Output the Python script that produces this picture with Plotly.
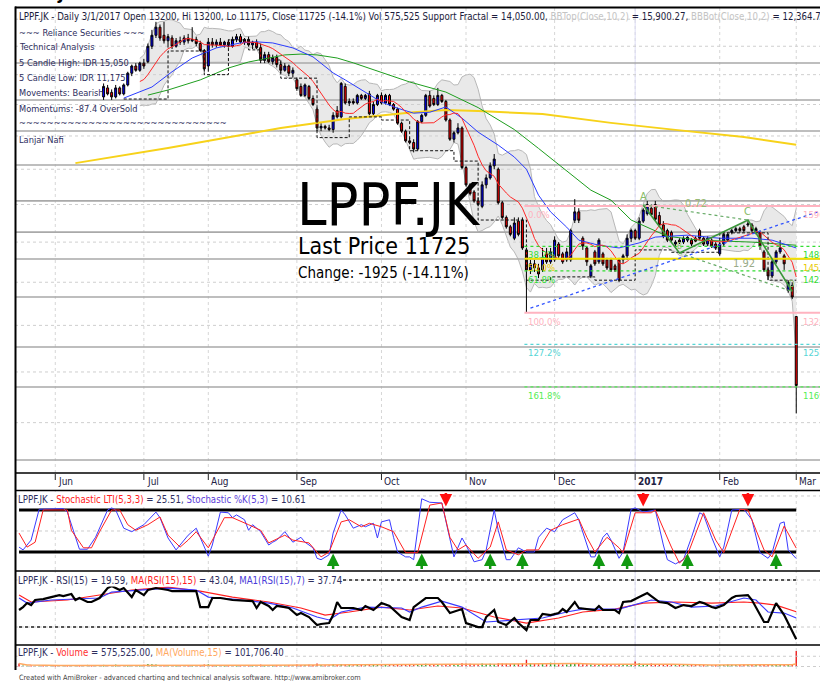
import numpy as np
import pandas as pd
import plotly.graph_objects as go

W, H = 820, 681
FONT = "DejaVu Sans Condensed, Liberation Sans, Arial, sans-serif"
TXT = "#2e2e5e"
TS = 9.6  # small text size

def px(x):
    return x / W

def py(y):
    return 1 - y / H

# ---------------- data ----------------
month_labels = ["Jun", "Jul", "Aug", "Sep", "Oct", "Nov", "Dec", "2017", "Feb", "Mar"]
month_bar = [9, 31, 47, 69, 90, 111, 133, 153, 174, 193]
n_bars = 194
first_candle = 21

opens = [19250,19550,19400,19250,19550,19350,19650,20050,20300,20150,20400,20450,21000,21400,21700,21400,21200,21300,21000,21200,
         21150,21300,21200,21250,21100,20850,20300,21150,21050,21150,21050,21150,21000,21250,21350,21150,21250,21050,21150,20950,
         20500,20700,20450,20600,20350,20150,20300,20050,19825,19600,19300,19600,19200,18850,18250,18300,18250,18200,18800,18600,
         19600,19050,19100,19050,19300,19200,19350,18700,19000,19300,19050,19300,19000,18850,18400,18150,17850,17800,17600,18450,
         18650,19300,19200,19000,19300,19100,18500,17900,18100,18250,17050,16550,16350,16100,15950,16550,16750,17100,17000,16050,
         15650,15400,15100,15550,15575,14800,14300,14450,14350,14300,14700,14500,14550,14950,14700,14550,14550,15575,15800,15100,
         14850,14150,14750,14500,14700,14550,14550,14400,14550,14550,14650,15100,15300,15100,15550,15750,15900,16000,15700,15450,
         15300,15250,14950,15050,15000,15050,15050,15100,15300,15100,14950,15050,14950,14700,14950,15050,15250,15300,15350,15400,
         15450,15450,15250,15250,14750,14300,14150,14500,14750,14650,13800,13925,13200]
highs = [19700,19650,19500,19650,19600,19700,20100,20350,20400,20450,20550,21100,21600,21900,21800,21900,21450,21400,21300,21350,
         21400,21450,21700,21350,21200,20900,21300,21300,21250,21300,21200,21250,21350,21450,21450,21300,21350,21200,21250,21100,
         20800,20800,20700,20700,20500,20400,20350,20250,19900,19700,19700,19650,19300,18900,18400,18350,18350,18750,18950,19750,
         19700,19200,19200,19350,19350,19350,19450,19100,19350,19400,19350,19350,19050,18900,18450,18200,17950,17900,18500,18700,
         19350,19450,19300,19550,19350,19150,18550,18150,18400,18300,17100,16600,16400,16200,16650,16850,17200,17450,17050,16100,
         15700,15450,15650,15650,15650,14850,14550,14550,14450,14850,14850,14850,15150,15000,14750,14850,15350,16150,15900,15150,
         14900,14450,14800,15100,14750,14600,14600,14450,14600,14700,15200,15350,15350,15650,15900,16100,16000,16100,15800,15550,
         15350,15300,15050,15100,15150,15150,15100,15150,15350,15150,15150,15100,15000,15000,15250,15250,15350,15400,15400,15450,
         15550,15500,15400,15300,14800,14350,14550,14800,15050,14700,14050,14000,13200]
lows = [19150,19300,19150,19200,19300,19300,19600,19950,20100,20100,20200,20400,20900,21300,21200,21100,20950,20900,20950,21050,
        21050,21100,21150,21000,20800,20100,20100,20950,20950,21000,20950,20950,20950,21150,21100,21050,21000,20900,20900,20400,
        20400,20400,20350,20250,20050,20100,19950,19900,19450,19250,19250,19150,18950,18150,18150,18200,18150,18100,18550,18550,
        19000,18950,19000,19000,19150,19150,18650,18650,18950,19000,19000,18950,18800,18350,18100,17800,17750,17500,17550,18400,
        18600,18900,18950,18950,19050,18450,17850,17800,18050,17000,16500,16250,16050,15950,15900,16450,16700,17000,16000,15600,
        15350,15150,15050,15150,14800,13300,14200,14250,14100,14250,14450,14450,14500,14600,14450,14500,14500,15500,15500,14800,
        14400,14100,14400,14450,14400,14300,14250,14250,14000,14450,14550,15000,15050,15050,15500,15700,15700,15550,15400,15100,
        15000,15000,14900,14950,14950,15000,14900,15000,15050,14900,14900,14850,14800,14650,14900,15000,15200,15250,15250,15250,
        15400,15250,15200,14800,14250,14050,14100,14450,14700,14300,13750,13600,11175]
closes = [19600,19350,19250,19550,19350,19650,20050,20300,20150,20400,20300,21000,21400,21700,21300,21200,21350,21000,21200,21150,
          21300,21200,21250,21100,20850,20200,21150,21050,21150,21050,21150,21000,21250,21350,21150,21250,21050,21150,20950,20500,
          20700,20450,20600,20350,20150,20300,20050,20150,19525,19300,19650,19200,19000,18250,18300,18250,18200,18650,18600,19700,
          19050,19100,19050,19300,19200,19300,18700,19000,19300,19050,19300,19000,18850,18400,18150,17850,17800,17600,18450,18650,
          19300,18950,19000,19300,19100,18500,17900,18100,18250,17050,16550,16300,16100,16000,16550,16750,17100,17300,16050,15650,
          15400,15200,15500,15200,14850,14300,14450,14350,14200,14600,14500,14750,15050,14650,14500,14750,15300,15800,15575,14900,
          14500,14400,14450,15050,14450,14350,14300,14300,14050,14650,15100,15300,15100,15550,15850,16000,15725,15600,15450,15150,
          15050,15050,15000,15000,15100,15125,14950,15025,15100,14950,15100,14900,14850,14950,15200,15200,15300,15350,15300,15300,
          15475,15300,15350,14900,14300,14150,14500,14750,14850,14450,14000,13650,11725]

volume_k = [110,40,30,35,25,30,45,30,25,40,35,30,50,45,40,35,30,60,45,40,55,
            60,45,50,70,40,55,60,45,40,50,65,90,80,70,60,55,45,50,40,45,40,50,60,45,50,70,
            80,50,45,40,55,45,50,40,45,50,40,45,55,70,50,45,55,60,50,45,55,50,
            70,60,55,65,60,110,55,50,45,80,60,90,70,55,50,60,55,50,75,55,60,50,
            55,60,55,70,65,70,55,75,95,80,100,70,60,55,50,75,90,85,70,120,110,
            100,90,80,110,95,100,85,120,110,100,95,90,100,110,250,120,95,85,90,80,140,
            85,80,75,70,110,120,90,85,80,70,65,75,60,55,60,50,90,60,70,65,
            190,120,95,80,110,90,70,65,60,55,50,55,60,50,55,60,50,55,45,50,55,
            60,55,70,65,60,60,70,65,60,55,55,90,75,70,65,60,70,75,80,
            575.525]

blue_ma_k = [26,33,38,43,49,55,59,63,68,73,78,81,90,94,98,102,106,110,114,119,123,126,129,132,136,139,144,149,154,158,166,174,182,187,193]
blue_ma_p = [19210,19580,20100,20580,20940,21120,21160,21120,20940,20620,20060,19820,19080,18880,18720,18750,18920,18560,18120,17720,
             17360,17000,16260,15800,15390,15050,14920,14850,14980,15130,15180,15100,15100,15050,14850]
green_ma_k = [32,37,45,52,57,62,66,70,74,79,83,97,106,114,123,129,142,147,152,161,169,182,193]
green_ma_p = [19310,19480,19820,20230,20440,20580,20690,20720,20690,20580,20410,19750,19410,18900,18200,17620,16400,16120,15580,15150,15050,15000,14920]
yellow_ma_k = [14,37,58,65,81,98,106,114,130,147,163,180,193]
yellow_ma_p = [17180,17630,18090,18250,18530,18750,18820,18790,18690,18410,18190,17970,17730]

fractal_k = [26,37,46,52,57,60,65,74,82,90,97,108,114,126,132,143,153,162,174,186,193]
fractal_p = [19180,20830,20000,21230,20870,20510,19880,17950,18600,18500,17550,17240,15580,14050,14130,14050,14800,14740,15240,14050,14050]

sr_levels = [20405, 19150, 18155, 17125, 16100, 15260, 14570, 13650, 12525, 11695, 10315]
grid_levels = list(range(11000, 23000, 1000))

fib_start = 126
fib_names = ["0.0%", "38.2%", "50.0%", "61.8%", "100.0%", "127.2%", "161.8%"]
fib_levels = [15960, 14888, 14575, 14275, 13285, 12585, 11695]
fib_colors = ["#ffb3c0", "#33dd33", "#f2e000", "#33dd33", "#ffb3c0", "#55d5d5", "#55ee55"]
fib_dash = ["solid", "dot", "solid", "dot", "solid", "dot", "dot"]
fib_width = [2, 1.2, 2, 1.2, 2, 1.2, 1.2]

trend_k = [127, 199]
trend_p = [13390, 15825]
abcd_names = ["A", "B", "C", "D"]
abcd_k = [155, 164, 181, 192]
abcd_p = [15990, 14720, 15580, 13780]

stoch_k_x = [0,1,3,5,11,12,15,17,19,22,23,24,26,28,31,34,35,37,39,40,42,44,45,47,48,50,52,53,54,56,57,58,60,62,63,64,66,67,68,70,
             71,73,74,75,76,77,78,80,81,83,85,86,88,89,90,92,93,94,96,97,98,100,102,105,108,110,111,113,115,116,118,119,121,122,124,126,128,129,131,133,
             135,136,138,139,140,142,143,145,146,147,149,150,152,153,155,158,160,161,163,165,167,169,170,172,174,175,177,180,182,184,186,187,189,190,191,193]
stoch_k_v = [27,23,37,81,82,77,24,24,41,80,83,80,54,49,59,77,69,40,23,30,44,54,41,14,30,77,76,69,73,66,51,59,49,30,34,37,49,41,34,41,
             34,26,11,9,13,16,47,80,73,54,59,56,61,40,63,66,41,20,13,13,9,96,91,90,13,40,30,6,9,23,80,51,9,9,26,20,20,41,54,49,
             66,69,76,66,49,13,13,41,47,37,11,20,81,83,77,80,30,9,3,9,41,76,73,41,13,27,80,81,66,19,11,19,61,63,23,10.61]
stoch_d_x = [0,2,4,6,12,13,16,18,20,23,25,27,29,32,35,37,40,42,44,47,51,53,57,60,62,66,68,72,75,77,80,82,85,87,90,93,96,99,102,105,
             107,109,111,114,117,119,121,124,126,129,132,135,139,141,143,146,149,150,153,157,158,162,164,166,170,173,175,179,181,185,187,190,193]
stoch_d_v = [47,27,34,80,80,51,26,26,49,80,80,59,51,59,70,44,27,37,49,26,69,69,59,51,33,44,37,33,13,20,63,66,56,61,56,49,19,19,87,90,
             41,23,30,11,27,63,23,16,23,23,51,59,67,41,20,41,26,19,76,76,80,27,4,16,76,37,19,81,80,23,13,57,25.51]
buy_bars = [78, 100, 117, 125, 144, 151, 166, 188]
sell_bars = [106, 155, 181]

rsi_x = [0,1,2,3,4,6,8,10,11,13,14,15,17,18,20,22,23,25,26,28,29,31,32,34,37,38,44,45,47,48,50,53,58,59,60,62,63,64,66,67,
         69,70,72,74,75,77,78,79,80,83,85,86,88,90,92,93,95,97,98,100,101,104,105,107,110,111,114,115,116,118,119,121,123,124,126,127,129,130,132,134,
         135,136,138,139,141,143,144,145,148,149,150,152,154,156,157,159,161,163,165,167,169,170,172,173,175,177,178,181,182,185,186,188,190,191,193]
rsi_v = [44.5,47,50.4,48.7,53,53.8,55.5,57.2,56.4,58.1,53,54.7,51.3,51.3,54.7,63.2,65,61.5,63.2,55.5,61.5,57.2,61.5,63.2,61.5,60.6,60.6,47,47,54.7,
         54.7,53,52.1,46.2,51.3,47.9,44.5,47.9,47,46.2,40.2,41.9,38.5,31.7,32.6,33.4,40.2,51.3,46.2,46.2,44.5,47.9,44.5,50.4,47.9,44.5,38.5,36,47,52.1,
         54.7,54.7,51.3,41.9,45.3,33.4,30,30,38.5,44.5,34.3,31.7,37.7,33.4,27.4,36,36,41.1,40.2,41.9,45.3,42.8,51.3,46.2,45.3,44.5,47.9,44.5,44.5,41.9,
         51.3,52.1,55.5,58.9,56.4,51.3,50.4,46.2,48.7,47.9,51.3,50.4,47,46.2,48.7,54.7,56.4,57.2,53,34.3,34.3,50.4,40.2,33.4,19.59]
rsi_ma_x = [0,3,12,20,28,37,45,53,62,70,76,82,90,97,104,110,118,126,134,140,148,155,163,172,180,184,188,193]
rsi_ma_v = [57.2,51.3,53,57.2,61.5,64,60.6,55.5,51.3,46.2,40.2,42.8,47,44.5,47.9,46.2,38.5,33.4,37.7,42.8,45.3,50.4,51.3,50.4,51.3,50.4,48.7,43.04]
rsi_ma1_x = [0,2,8,16,20,23,30,37,44,47,53,62,68,74,77,80,86,95,97,100,105,110,116,122,130,136,140,149,157,162,167,173,180,183,186,190,193]
rsi_ma1_v = [54.7,50.4,53,53.8,54.7,59.8,61.5,63.2,61.5,55.5,53.8,50.4,46.2,38.5,36,42.8,47,46.2,42.8,47,52.1,47,34.3,36,37.7,42.8,45.3,45.3,53,51.3,
             47,47.9,54.7,53,42.8,41.9,37.74]

# ---------------- derived series ----------------
cx = list(range(first_candle, first_candle + len(closes)))
cs = pd.Series(closes, index=cx, dtype=float)
ma10 = cs.rolling(10).mean()
sd10 = cs.rolling(10).std(ddof=0)
bb_top = (ma10 + 2 * sd10).dropna()
bb_bot = (ma10 - 2 * sd10).dropna()
vol = pd.Series([v * 1000 for v in volume_k], dtype=float)
vol_ma = vol.rolling(15, min_periods=1).mean()
vol_colors = []
for k in range(n_bars):
    if k >= first_candle:
        i = k - first_candle
        vol_colors.append("#22a022" if closes[i] >= opens[i] else "#ee2020")
    else:
        vol_colors.append("#ee2020" if k % 3 == 0 else "#22a022")

XL, XR = -1.0, 198.9

fig = go.Figure()

def line(x, y, color, width=1, dash="solid", axis="y", shape="linear"):
    fig.add_trace(go.Scatter(x=x, y=y, mode="lines", yaxis=axis, xaxis="x",
                             line=dict(color=color, width=width, dash=dash, shape=shape),
                             hoverinfo="skip", showlegend=False))

# ---- main panel: background layer (y) ----
fig.add_trace(go.Scatter(x=list(bb_bot.index), y=list(bb_bot.values), mode="lines", yaxis="y",
                         line=dict(color="#b8b8b8", width=1), hoverinfo="skip", showlegend=False))
fig.add_trace(go.Scatter(x=list(bb_top.index), y=list(bb_top.values), mode="lines", fill="tonexty", yaxis="y",
                         fillcolor="#e9e9e9", line=dict(color="#b8b8b8", width=1), hoverinfo="skip", showlegend=False))
for g in grid_levels:
    line([XL, XR], [g, g], "#cfcfcf", 1, "dot")
for s in sr_levels:
    line([XL, XR], [s, s], "#a9a9a9", 1.6)

# ---- candles on overlay (y5) ----
fig.add_trace(go.Candlestick(x=cx, open=opens, high=highs, low=lows, close=closes, xaxis="x", yaxis="y5",
                             increasing=dict(line=dict(color="#000000", width=1), fillcolor="#0000ff"),
                             decreasing=dict(line=dict(color="#000000", width=1), fillcolor="#ff0000"),
                             whiskerwidth=0, hoverinfo="skip", showlegend=False))

# ---- indicator lines on overlay (y6) ----
line(yellow_ma_k, yellow_ma_p, "#f7d21a", 2, axis="y6")
line(green_ma_k, green_ma_p, "#1e9e1e", 1, axis="y6")
line(blue_ma_k, blue_ma_p, "#2a3cff", 1, axis="y6")
line(list(ma10.dropna().index), list(ma10.dropna().values), "#ff2a2a", 1, axis="y6")
line(fractal_k, fractal_p, "#111111", 1, "3px,2px", axis="y6", shape="hv")
for lv, c, d, w in zip(fib_levels, fib_colors, fib_dash, fib_width):
    line([fib_start - 0.5, XR], [lv, lv], c, w, d, axis="y6")
line(trend_k, trend_p, "#3355ff", 1.3, "dot", axis="y6")
line(abcd_k, abcd_p, "#3a963a", 1.6, axis="y6")
line([abcd_k[0], abcd_k[2]], [abcd_p[0], abcd_p[2]], "#66aa66", 1.2, "dot", axis="y6")
line([abcd_k[1], abcd_k[3]], [abcd_p[1], abcd_p[3]], "#66aa66", 1.2, "dot", axis="y6")

# ---- stochastic ----
for lv in [50, 100]:
    line([XL, XR], [lv, lv], "#cccccc", 1, "dot", axis="y2")
line([0, n_bars - 1], [80, 80], "#000000", 3, axis="y2")
line([0, n_bars - 1], [20, 20], "#000000", 3, axis="y2")
line(stoch_k_x, stoch_k_v, "#3a3aff", 1, axis="y2")
line(stoch_d_x, stoch_d_v, "#ff2020", 1, axis="y2")

# ---- RSI ----
for lv in [70, 30]:
    line([XL, XR], [lv, lv], "#cccccc", 1, "dot", axis="y3")
    line([0, n_bars - 1], [lv, lv], "#555555", 2, "dot", axis="y3")
line(rsi_ma_x, rsi_ma_v, "#ff2020", 1.2, axis="y3")
line(rsi_ma1_x, rsi_ma1_v, "#3a3aff", 1.2, axis="y3")
line(rsi_x, rsi_v, "#000000", 2.2, axis="y3")

# ---- volume ----
for lv in [0, 380000]:
    line([XL, XR], [lv, lv], "#cccccc", 1, "dot", axis="y4")
fig.add_trace(go.Bar(x=list(range(n_bars)), y=list(vol.values), marker=dict(color=vol_colors, line=dict(width=0)),
                     width=0.35, xaxis="x", yaxis="y4", hoverinfo="skip", showlegend=False))
line(list(range(n_bars)), list(vol_ma.values), "#ffa860", 1.5, axis="y4")

shapes = []
for k in month_bar:
    for yr in ["y domain", "y2 domain", "y3 domain", "y4 domain"]:
        shapes.append(dict(type="line", xref="x", yref=yr, x0=k, x1=k, y0=0, y1=1,
                           line=dict(color="#d6d6d6", width=1, dash="dot"), layer="below"))
shapes.append(dict(type="line", xref="x", yref="paper", x0=153, x1=153, y0=py(669), y1=py(8),
                   line=dict(color="#dcdcf4", width=1), layer="below"))

def hline(y, w=1.5):
    shapes.append(dict(type="line", xref="paper", yref="paper", x0=px(15), x1=1, y0=py(y), y1=py(y),
                       line=dict(color="#000000", width=w)))
hline(7.5, 2)
hline(473, 1.5)
hline(490.5, 1.5)
hline(571, 1.5)
hline(645, 1.5)
shapes.append(dict(type="line", xref="paper", yref="paper", x0=px(15.5), x1=px(15.5), y0=py(670), y1=py(6.5),
                   line=dict(color="#000000", width=2)))
for k in month_bar:
    shapes.append(dict(type="line", xref="x", yref="paper", x0=k, x1=k, y0=py(474), y1=py(480),
                       line=dict(color="#222222", width=1)))

ann = []
def text(x, y, s, size=TS, color=TXT, anchor="left", yanchor="middle", bg=None, family=FONT, **kw):
    d = dict(x=px(x), y=py(y), xref="paper", yref="paper", text=s, showarrow=False, xanchor=anchor,
             yanchor=yanchor, font=dict(family=family, size=size, color=color))
    if bg:
        d["bgcolor"] = bg
        d["borderpad"] = 0
    d.update(kw)
    ann.append(d)

text(13, 6, "<b>LPPF.JK</b>", 16, "#000000", yanchor="bottom")
gray = "#c4c4c4"
header = ("LPPF.JK - Daily 3/1/2017 Open 13200, Hi 13200, Lo 11175, Close 11725 (-14.1%) Vol 575,525 Support Fractal = 14,050.00, "
          f"<span style='color:{gray}'>BBTop(Close,10,2)</span> = 15,900.27, "
          f"<span style='color:{gray}'>BBBot(Close,10,2)</span> = 12,364.73")
text(17, 17, header, TS, "#1c1c3c")
left_lines = ["~~~ Reliance Securities ~~~", "Technical Analysis", "5 Candle High: IDR 15,050", "5 Candle Low: IDR 11,175",
              "Movements: Bearish", "Momentums: -87.4 OverSold", "~~~~~~~~~~~~~~~~~~~~~~~~~~~~~~", "Lanjar Nafi"]
left_y = [32, 47, 62, 77, 93, 108, 123, 139]
for s, yy in zip(left_lines, left_y):
    text(17, yy, s, 9.2, TXT)

text(295, 204, "LPPF.JK", 59, "#000000")
text(296, 246, "Last Price 11725", 23, "#000000")
text(296, 273, "Change: -1925 (-14.11%)", 15, "#000000")

for nm, lv, c in zip(fib_names, fib_levels, fib_colors):
    lab_c = c if c != "#f2e000" else "#e8c800"
    ann.append(dict(x=fib_start, y=np.log10(lv), xref="x", yref="y", text=nm, showarrow=False, xanchor="left",
                    yanchor="top", yshift=-1, font=dict(family=FONT, size=9.5, color=lab_c)))
    ann.append(dict(x=194.2, y=np.log10(lv), xref="x", yref="y", text=str(lv), showarrow=False, xanchor="left",
                    yanchor="top", yshift=-1, font=dict(family=FONT, size=9.5, color=lab_c)))
for nm, k, p in zip(abcd_names, abcd_k, abcd_p):
    sz = 11 if nm in ("A", "C") else 8
    ann.append(dict(x=k, y=np.log10(p), xref="x", yref="y", text=nm, showarrow=False, yanchor="bottom",
                    font=dict(family=FONT, size=sz, color="#88bb66")))
ann.append(dict(x=(abcd_k[0] + abcd_k[2]) / 2, y=np.log10((abcd_p[0] + abcd_p[2]) / 2), xref="x", yref="y", text="0.72",
                showarrow=False, yanchor="bottom", font=dict(family=FONT, size=11, color="#99bb77")))
ann.append(dict(x=(abcd_k[1] + abcd_k[3]) / 2 + 2, y=np.log10((abcd_p[1] + abcd_p[3]) / 2), xref="x", yref="y", text="1.92",
                showarrow=False, yanchor="bottom", font=dict(family=FONT, size=11, color="#99aa88")))

for lab, k in zip(month_labels, month_bar):
    s = f"<b>{lab}</b>" if lab == "2017" else lab
    ann.append(dict(x=k, y=py(482), xref="x", yref="paper", text=s, showarrow=False, xanchor="left", xshift=1,
                    yanchor="middle", font=dict(family=FONT, size=10, color="#222244")))

for k in buy_bars:
    ann.append(dict(x=k, y=18, xref="x", yref="y2", ax=0, ay=17, text="", showarrow=True, arrowhead=2,
                    arrowsize=1, arrowwidth=2.5, arrowcolor="#119911"))
for k in sell_bars:
    ann.append(dict(x=k, y=85, xref="x", yref="y2", ax=0, ay=-15, text="", showarrow=True, arrowhead=2,
                    arrowsize=1, arrowwidth=2.5, arrowcolor="#ff1010"))

text(17, 499, "LPPF.JK - <span style='color:#ff2020'>Stochastic LTI(5,3,3)</span> = 25.51, "
     "<span style='color:#5a3cd8'>Stochastic %K(5,3)</span> = 10.61", TS, "#2e2e5e", bg="white")
text(17, 580, "LPPF.JK - RSI(15) = 19.59, <span style='color:#ff2020'>MA(RSI(15),15)</span> = 43.04, "
     "<span style='color:#4a3cd8'>MA1(RSI(15),7)</span> = 37.74", TS, "#2e2e5e", bg="white")
text(17, 652, "LPPF.JK - <span style='color:#ff3030'>Volume</span> = 575,525.00, "
     "<span style='color:#ffa860'>MA(Volume,15)</span> = 101,706.40", TS, "#2e2e5e", bg="white")
text(17, 677, "Created with AmiBroker - advanced charting and technical analysis software. http://www.amibroker.com",
     7.3, "#444444")

main_dom = [py(473), py(8)]
main_rng = [np.log10(10088), np.log10(22427)]
fig.update_layout(
    width=W, height=H, margin=dict(l=0, r=0, t=0, b=0),
    paper_bgcolor="white", plot_bgcolor="white", showlegend=False, hovermode=False,
    font=dict(family=FONT),
    xaxis=dict(domain=[px(15), 1], range=[XL, XR], showgrid=False, zeroline=False, showticklabels=False,
               ticks="", rangeslider=dict(visible=False), anchor="y4"),
    yaxis=dict(domain=main_dom, type="log", range=main_rng, showgrid=False, zeroline=False, showticklabels=False),
    yaxis5=dict(domain=main_dom, type="log", range=main_rng, overlaying="y", showgrid=False, zeroline=False,
                showticklabels=False),
    yaxis6=dict(domain=main_dom, type="log", range=main_rng, overlaying="y", showgrid=False, zeroline=False,
                showticklabels=False),
    yaxis2=dict(domain=[py(570), py(491)], range=[-5.7, 107.1], showgrid=False, zeroline=False, showticklabels=False),
    yaxis3=dict(domain=[py(645), py(571)], range=[14.7, 77.7], showgrid=False, zeroline=False, showticklabels=False),
    yaxis4=dict(domain=[py(669), py(645)], range=[-93000, 798000], showgrid=False, zeroline=False, showticklabels=False),
    shapes=shapes, annotations=ann,
)

fig.write_html("out.html", config={"displayModeBar": False, "staticPlot": True},
               post_script="document.body.style.margin='0px';document.body.style.padding='0px';")
